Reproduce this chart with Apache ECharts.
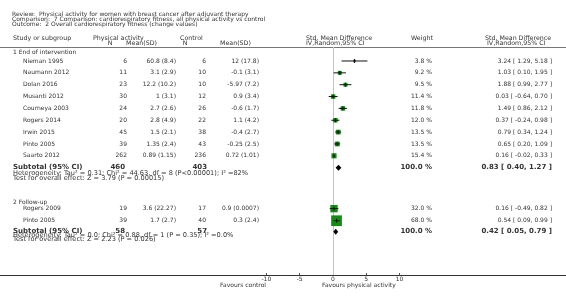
<!DOCTYPE html>
<html>
<head>
<meta charset="utf-8">
<script src="https://cdn.jsdelivr.net/npm/echarts@6/dist/echarts.min.js"></script>
<style>html,body{margin:0;padding:0;background:#fff}#chart{width:566px;height:305px}</style>
</head>
<body>
<div id="chart"></div>
<script>
// studies, in drawing order
var studies = ['Nieman 1995', 'Naumann 2012', 'Dolan 2016', 'Musanti 2012', 'Courneya 2003',
  'Rogers 2014', 'Irwin 2015', 'Pinto 2005', 'Saarto 2012', 'Rogers 2009', 'Pinto 2005'];
var paN = [6, 11, 23, 30, 24, 20, 45, 39, 262, 19, 39];
var paMean = [60.8, 3.1, 12.2, 1, 2.7, 2.8, 1.5, 1.35, 0.89, 3.6, 1.7];
var paSD = [8.4, 2.9, 10.2, 3.1, 2.6, 4.9, 2.1, 2.4, 1.15, 22.27, 2.7];
var ctN = [6, 10, 10, 12, 26, 22, 38, 43, 236, 17, 40];
var ctMean = [12, -0.1, -5.97, 0.9, -0.6, 1.1, -0.4, -0.25, 0.72, 0.9, 0.3];
var ctSD = [17.8, 3.1, 7.2, 3.4, 1.7, 4.2, 2.7, 2.5, 1.01, 0.0007, 2.4];
var weight = [3.8, 9.2, 9.5, 11.4, 11.8, 12.0, 13.5, 13.5, 15.4, 32.0, 68.0];
var smd = [3.24, 1.03, 1.88, 0.03, 1.49, 0.37, 0.79, 0.65, 0.16, 0.16, 0.54];
var ciLow = [1.29, 0.10, 0.99, -0.64, 0.86, -0.24, 0.34, 0.20, -0.02, -0.49, 0.09];
var ciHigh = [5.18, 1.95, 2.77, 0.70, 2.12, 0.98, 1.24, 1.09, 0.33, 0.82, 0.99];

// subgroup totals
var groups = ['1 End of intervention', '2 Follow-up'];
var subPaN = [460, 58];
var subCtN = [403, 57];
var subSmd = [0.83, 0.42];
var subLow = [0.40, 0.05];
var subHigh = [1.27, 0.79];
var hetText = ['Heterogeneity: Tau\u00b2 = 0.31; Chi\u00b2 = 44.63, df = 8 (P<0.00001); I\u00b2 =82%',
  'Heterogeneity: Tau\u00b2 = 0.0; Chi\u00b2 = 0.88, df = 1 (P = 0.35); I\u00b2 =0.0%'];
var testText = ['Test for overall effect: Z = 3.79 (P = 0.00015)',
  'Test for overall effect: Z = 2.23 (P = 0.026)'];

var tickValues = [-10, -5, 0, 5, 10];

// row layout (in row units on the hidden y axis)
var studyRow = [0, 1, 2, 3, 4, 5, 6, 7, 8, 12.46, 13.48];
var subRow = [9, 14.4];
var groupRow = [-0.76, 11.9];
var hetRow = [9.47, 14.74];
var testRow = [9.87, 15.08];

var FF = '"DejaVu Sans", Verdana, sans-serif';
var F = '6px ' + FF;
var FH = '6.3px ' + FF;
var FN = '6.6px ' + FF;
var FB = 'bold 7px ' + FF;
var TC = '#333';
var GREEN = '#0f8f0f';

function t(x, y, s, align, font) {
  return {
    type: 'text', x: x, y: y, silent: true,
    style: {
      text: s, fill: TC, font: font || F,
      align: align || 'left', textAlign: align || 'left',
      verticalAlign: 'middle', textVerticalAlign: 'middle'
    }
  };
}
function ms(m, s) { return m + ' (' + s + ')'; }
function ci(e, l, h) { return e.toFixed(2) + ' [ ' + l.toFixed(2) + ', ' + h.toFixed(2) + ' ]'; }

var studyData = studies.map(function (n, i) {
  return [smd[i], studyRow[i], ciLow[i], ciHigh[i], weight[i], i];
});
var subData = subSmd.map(function (v, i) {
  return [v, subRow[i], subLow[i], subHigh[i], i];
});
var noteData = groups.map(function (g, i) { return [0, groupRow[i], i]; });

var header = [
  t(12, 14, 'Review:  Physical activity for women with breast cancer after adjuvant therapy'),
  t(12, 19, 'Comparison:  7 Comparison: cardiorespiratory fitness, all physical activity vs control'),
  t(12, 24, 'Outcome:  2 Overall cardiorespiratory fitness (change values)'),
  t(13, 38, 'Study or subgroup', 'left', FH),
  t(93, 38, 'Physical activity', 'left', FH),
  t(110, 43, 'N', 'center', FH),
  t(157, 43, 'Mean(SD)', 'right', FH),
  t(180, 38, 'Control', 'left', FH),
  t(185, 43, 'N', 'center', FH),
  t(220, 43, 'Mean(SD)', 'left', FH),
  t(306, 38, 'Std. Mean Difference', 'left', FH),
  t(306, 43, 'IV,Random,95% CI', 'left', FH),
  t(411, 38, 'Weight', 'left', FH),
  t(485, 38, 'Std. Mean Difference', 'left', FH),
  t(487, 43, 'IV,Random,95% CI', 'left', FH),
  t(266, 285, 'Favours control', 'right'),
  t(322, 285, 'Favours physical activity')
];

var chart = echarts.init(document.getElementById('chart'));
chart.setOption({
  animation: false,
  grid: { left: 0, right: 0, top: 47, bottom: 30 },
  xAxis: [{
    type: 'value', min: -50, max: 35, position: 'bottom',
    axisLine: { onZero: false, lineStyle: { color: '#333', width: 1 } },
    axisTick: { customValues: tickValues, inside: true, length: 2, lineStyle: { color: '#555' } },
    axisLabel: { customValues: tickValues, fontSize: 6, fontFamily: FF, color: TC, margin: 1 },
    splitLine: { show: false }
  }, {
    type: 'value', min: -50, max: 35, position: 'top',
    axisLine: { onZero: false, lineStyle: { color: '#777', width: 1 } },
    axisTick: { show: false }, axisLabel: { show: false }, splitLine: { show: false }
  }],
  yAxis: { type: 'value', inverse: true, min: -1.1814, max: 18.059, show: false },
  graphic: header,
  series: [{
    // study rows: text columns + CI whisker + weighted square
    type: 'custom', clip: false,
    data: studyData,
    encode: { x: [0, 2, 3], y: 1 },
    markLine: {
      silent: true, symbol: 'none', label: { show: false }, z: 1,
      lineStyle: { color: '#c4c4c4', type: 'solid', width: 1 },
      data: [{ xAxis: 0 }]
    },
    renderItem: function (params, api) {
      var i = api.value(5);
      var p = api.coord([api.value(0), api.value(1)]);
      var lo = api.coord([api.value(2), api.value(1)]);
      var hi = api.coord([api.value(3), api.value(1)]);
      var y = p[1];
      var s = 1.3 * Math.sqrt(api.value(4));
      return {
        type: 'group',
        children: [
          t(23, y, studies[i]),
          t(127, y, String(paN[i]), 'right'),
          t(176, y, ms(paMean[i], paSD[i]), 'right'),
          t(206, y, String(ctN[i]), 'right'),
          t(259, y, ms(ctMean[i], ctSD[i]), 'right'),
          t(432, y, weight[i].toFixed(1) + ' %', 'right'),
          t(552, y, ci(smd[i], ciLow[i], ciHigh[i]), 'right'),
          { type: 'rect', shape: { x: p[0] - s / 2, y: y - s / 2, width: s, height: s }, style: { fill: GREEN } },
          { type: 'line', shape: { x1: lo[0], y1: y, x2: hi[0], y2: y }, style: { stroke: '#111', lineWidth: 1 } },
          { type: 'line', shape: { x1: p[0], y1: y - 2, x2: p[0], y2: y + 2 }, style: { stroke: '#111', lineWidth: 1 } }
        ]
      };
    }
  }, {
    // subtotals: diamond + bold totals
    type: 'custom', clip: false,
    data: subData,
    encode: { x: [0, 2, 3], y: 1 },
    renderItem: function (params, api) {
      var i = api.value(4);
      var p = api.coord([api.value(0), api.value(1)]);
      var lo = api.coord([api.value(2), api.value(1)]);
      var hi = api.coord([api.value(3), api.value(1)]);
      var y = p[1];
      return {
        type: 'group',
        children: [
          t(13, y, 'Subtotal (95% CI)', 'left', FB),
          t(125, y, String(subPaN[i]), 'right', FB),
          t(207, y, String(subCtN[i]), 'right', FB),
          t(432, y, '100.0 %', 'right', FB),
          t(552, y, ci(subSmd[i], subLow[i], subHigh[i]), 'right', FB),
          { type: 'polygon', shape: { points: [[lo[0], y], [p[0], y - 3], [hi[0], y], [p[0], y + 3]] }, style: { fill: '#000' } }
        ]
      };
    }
  }, {
    // group headings and heterogeneity notes
    type: 'custom', clip: false,
    data: noteData,
    encode: { x: 0, y: 1 },
    renderItem: function (params, api) {
      var i = api.value(2);
      var g = api.coord([0, groupRow[i]])[1];
      var h = api.coord([0, hetRow[i]])[1];
      var z = api.coord([0, testRow[i]])[1];
      return {
        type: 'group',
        children: [t(13, g, groups[i]), t(13, h, hetText[i], 'left', FN), t(13, z, testText[i], 'left', FN)]
      };
    }
  }]
});
</script>
</body>
</html>
